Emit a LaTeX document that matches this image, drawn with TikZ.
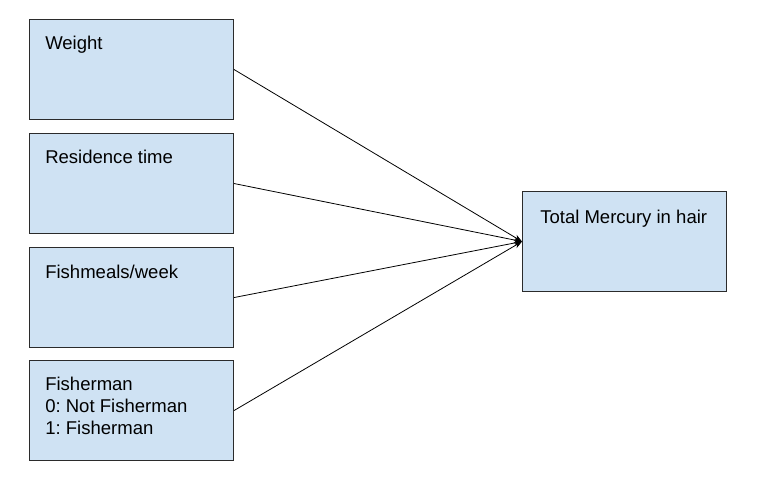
\documentclass[tikz,border=0pt]{standalone}
\usepackage{fontspec}
\setmainfont{Liberation Sans}
\usetikzlibrary{arrows.meta, positioning}
\definecolor{boxblue}{HTML}{CFE2F3}
\definecolor{boxline}{HTML}{2B2B2B}
\frenchspacing

\begin{document}
\begin{tikzpicture}[x=0.75pt, y=-0.75pt,
	box/.style={draw=boxline, fill=boxblue, line width=0.8pt, minimum width=153pt, minimum height=75pt, inner sep=0pt},
	txt/.style={font=\fontsize{13.9}{16.5}\selectfont, inner sep=0pt, align=left},
	link/.style={-{Stealth[length=6pt, width=4.5pt]}, line width=0.6pt}]
	\useasboundingbox (0,0) rectangle (763,499);
	% Predictors
	\node[box, anchor=north west] (weight) at (29,19) {};
	\node[box, anchor=north west] (residence) at (29,133) {};
	\node[box, anchor=north west] (fishmeals) at (29,247) {};
	\node[box, anchor=north west] (fisherman) at (29,360) {};
	% Outcome
	\node[box, anchor=north west] (mercury) at (522,191) {};
	% Labels
	\node[txt, anchor=base west] (weighttxt) at (45,50) {Weight};
	\node[txt, anchor=base west] (residencetxt) at (45,164) {Residence time};
	\node[txt, anchor=base west] (fishmealstxt) at (45,278) {Fishmeals/week};
	\node[txt, anchor=north west] (fishermantxt) at (45,377) {Fisherman\\0: Not Fisherman\\1: Fisherman};
	\node[txt, anchor=base west] (mercurytxt) at (540,223) {Total Mercury in hair};
	% Links
	\foreach \src in {weight, residence, fishmeals, fisherman}
		\draw[link] (\src.east) -- (mercury.west);
\end{tikzpicture}
\end{document}
